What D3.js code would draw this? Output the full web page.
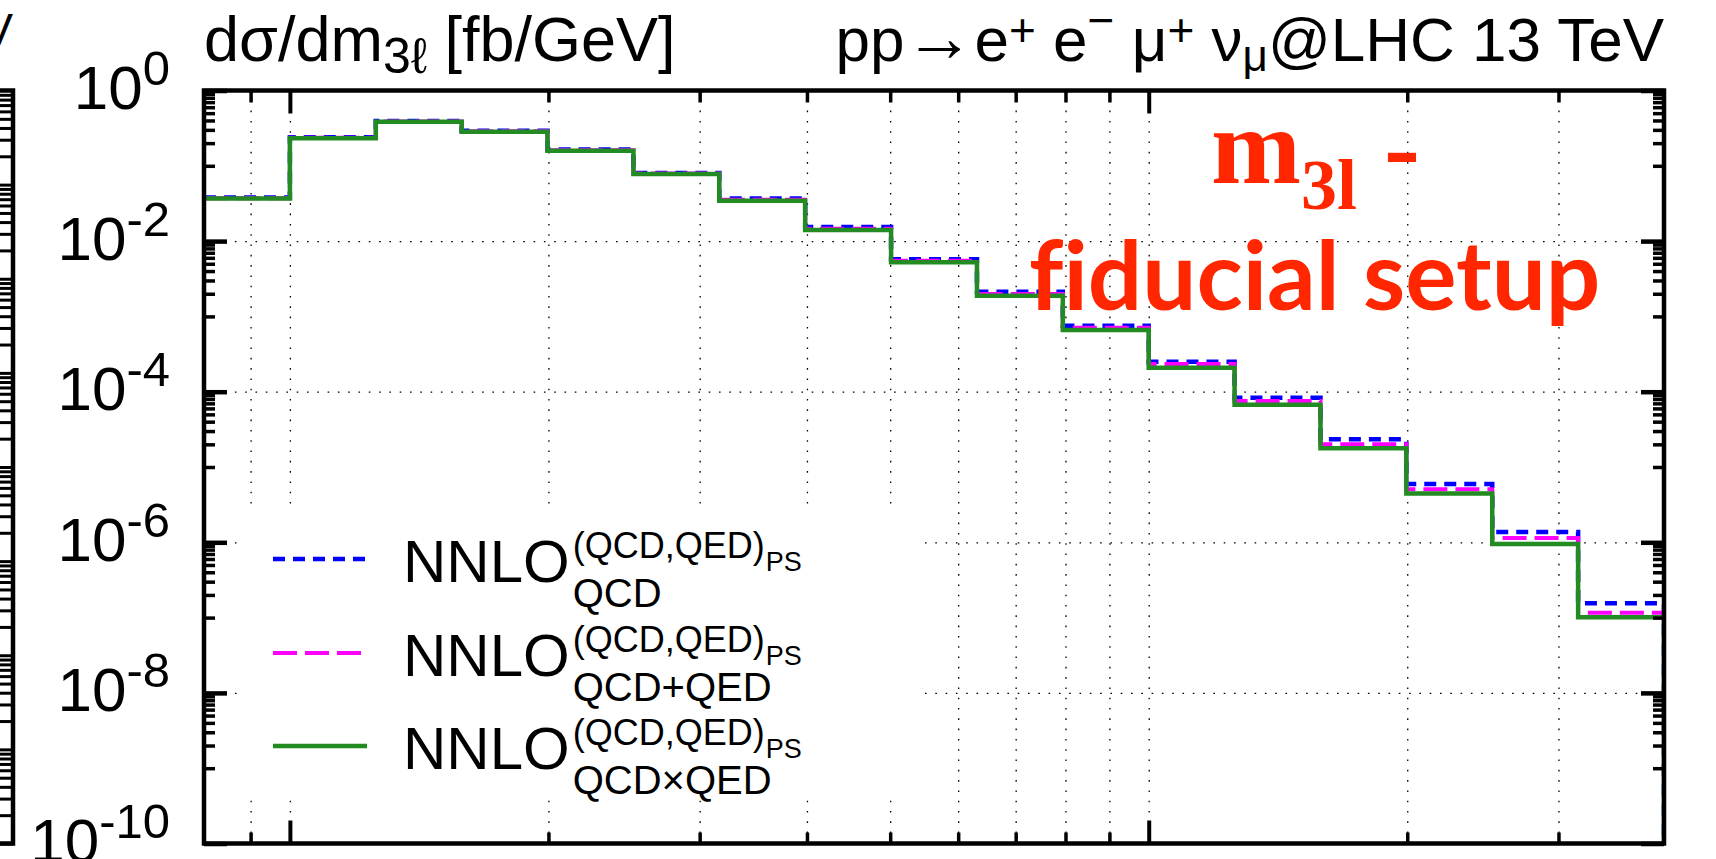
<!DOCTYPE html>
<html>
<head>
<meta charset="utf-8">
<script src="https://cdn.jsdelivr.net/npm/d3@7"></script>
<style>
  body { margin: 0; background: #fff; }
  svg { display: block; font-family: "Liberation Sans", Arial, sans-serif; }
</style>
</head>
<body>
<div id="chart"></div>
<script>
// m3l bin edges [GeV] (10 bins per decade)
var binEdges = [79.43, 100, 125.9, 158.5, 199.5, 251.2, 316.2, 398.1, 501.2, 631.0,
                794.3, 1000, 1258.9, 1584.9, 1995.3, 2511.9, 3162.3, 3981.1];

// dsigma/dm3l [fb/GeV] per bin
var nnloQCD = [0.0379, 0.239, 0.395, 0.292, 0.164, 0.0805, 0.0368, 0.0154, 0.00575, 0.00212,
               7.5e-4, 2.5e-4, 8.3e-5, 2.33e-5, 5.95e-6, 1.37e-6, 1.55e-7];
var nnloQCDplusQED = [0.0372, 0.235, 0.389, 0.287, 0.161, 0.0790, 0.0355, 0.0146, 0.00548, 0.00199,
                      7.06e-4, 2.33e-4, 7.52e-5, 2.0e-5, 5.07e-6, 1.14e-6, 1.16e-7];
var nnloQCDxQED = [0.0368, 0.232, 0.385, 0.284, 0.159, 0.0778, 0.0344, 0.0140, 0.00523, 0.00188,
                   6.59e-4, 2.08e-4, 6.72e-5, 1.77e-5, 4.45e-6, 9.48e-7, 1.01e-7];

// Ticks
var yMajorTicks = [1, 1e-2, 1e-4, 1e-6, 1e-8, 1e-10];
var yTickExp = ["0", "-2", "-4", "-6", "-8", "-10"];
var yGridTicks = [1e-2, 1e-4, 1e-6, 1e-8];
var xMajorTicks = [100, 1000];
var xMinorTicks = [90, 200, 300, 400, 500, 600, 700, 800, 900, 2000, 3000];
var legendLabels = ["QCD", "QCD+QED", "QCD\u00d7QED"];

// minor y ticks: 1..9 x 10^k in the upper decade of every two-decade step
var yMinorTicks = [];
[-1, -3, -5, -7, -9].forEach(function(k) {
  d3.range(1, 10).forEach(function(m) { yMinorTicks.push(m * Math.pow(10, k)); });
});

var W = 1716, H = 859;
var plotL = 204, plotR = 1664, plotT = 90.5, plotB = 843.5;
var red = "#ff2600";

var svg = d3.select("#chart").append("svg")
    .attr("width", W)
    .attr("height", H);

var x = d3.scaleLog()
    .domain([binEdges[0], binEdges[binEdges.length - 1]])
    .range([plotL, plotR]);

var y = d3.scaleLog()
    .domain([1e-10, 1])
    .range([plotB, plotT]);

// Dotted grid
var xGridTicks = xMinorTicks.concat(xMajorTicks).sort(d3.ascending);

svg.append("g")
    .attr("transform", "translate(0," + plotB + ")")
    .call(d3.axisBottom(x).tickValues(xGridTicks).tickSize(-(plotB - plotT)).tickFormat(""))
    .call(function(g) { g.select(".domain").remove(); })
    .selectAll("line")
      .attr("stroke", "#000")
      .attr("stroke-width", 1.3)
      .attr("stroke-dasharray", "1.6,8.7");

svg.append("g")
    .attr("transform", "translate(" + plotL + ",0)")
    .call(d3.axisLeft(y).tickValues(yGridTicks).tickSize(-(plotR - plotL)).tickFormat(""))
    .call(function(g) { g.select(".domain").remove(); })
    .selectAll("line")
      .attr("stroke", "#000")
      .attr("stroke-width", 1.3)
      .attr("stroke-dasharray", "1.6,8.7");

// Legend background hides the grid
svg.append("rect")
    .attr("x", 238).attr("y", 512)
    .attr("width", 680).attr("height", 280)
    .attr("fill", "#fff");

// Histograms
svg.append("clipPath")
    .attr("id", "plotclip")
  .append("rect")
    .attr("x", plotL).attr("y", plotT)
    .attr("width", plotR - plotL).attr("height", plotB - plotT);

var series = [
  {vals: nnloQCD, color: "#0000ff", dash: "12,8", width: 4.5},
  {vals: nnloQCDplusQED, color: "#ff00ff", dash: "24,8", width: 4},
  {vals: nnloQCDxQED, color: "#228b22", dash: null, width: 4.5}
];

function stepPoints(vals) {
  var pts = vals.map(function(v, i) { return [binEdges[i], v]; });
  pts.push([binEdges[vals.length], vals[vals.length - 1]]);
  pts.push([binEdges[vals.length], 1e-10]);
  return pts;
}

var line = d3.line()
    .x(function(d) { return x(d[0]); })
    .y(function(d) { return y(d[1]); })
    .curve(d3.curveStepAfter);

svg.append("g")
    .attr("clip-path", "url(#plotclip)")
  .selectAll("path")
  .data(series)
  .enter().append("path")
    .attr("d", function(d) { return line(stepPoints(d.vals)); })
    .attr("fill", "none")
    .attr("stroke", function(d) { return d.color; })
    .attr("stroke-width", function(d) { return d.width; })
    .attr("stroke-dasharray", function(d) { return d.dash; })
    .attr("stroke-linejoin", "miter")
    .attr("stroke-linecap", "butt");

// Frame
svg.append("rect")
    .attr("x", plotL).attr("y", plotT)
    .attr("width", plotR - plotL).attr("height", plotB - plotT)
    .attr("fill", "none")
    .attr("stroke", "#000")
    .attr("stroke-width", 4.5);

// Inward ticks on all four sides
function ticks(axis, tx, ty, values, size, width) {
  svg.append("g")
      .attr("transform", "translate(" + tx + "," + ty + ")")
      .call(axis.tickValues(values).tickSize(size).tickFormat(""))
      .call(function(g) { g.select(".domain").remove(); })
      .selectAll("line")
        .attr("stroke", "#000")
        .attr("stroke-width", width);
}

ticks(d3.axisRight(y), plotL, 0, yMajorTicks, 23, 4.5);
ticks(d3.axisRight(y), plotL, 0, yMinorTicks, 11, 3.5);
ticks(d3.axisLeft(y), plotR, 0, yMajorTicks, 23, 4.5);
ticks(d3.axisLeft(y), plotR, 0, yMinorTicks, 11, 3.5);
ticks(d3.axisTop(x), 0, plotB, xMajorTicks, 23, 4);
ticks(d3.axisTop(x), 0, plotB, xMinorTicks, 11, 3.5);
ticks(d3.axisBottom(x), 0, plotT, xMajorTicks, 23, 4);
ticks(d3.axisBottom(x), 0, plotT, xMinorTicks, 12, 3.5);

// Y tick labels 10^n
svg.append("g")
    .attr("transform", "translate(" + plotL + ",0)")
    .call(d3.axisLeft(y).tickValues(yMajorTicks).tickSize(0).tickPadding(34))
    .call(function(g) { g.select(".domain").remove(); })
    .attr("font-size", 62)
    .attr("font-family", "Liberation Sans, Arial, sans-serif")
    .selectAll(".tick text")
      .attr("fill", "#000")
      .attr("dy", 18)
      .each(function(d, i) {
        var t = d3.select(this);
        t.text(null);
        t.append("tspan").text("10");
        t.append("tspan").attr("dy", -24).attr("font-size", 49).text(yTickExp[i]);
      });

// Titles
var tl = svg.append("text")
    .attr("x", 204).attr("y", 61)
    .attr("font-size", 63);
tl.append("tspan").text("d\u03c3/dm");
tl.append("tspan").attr("dy", 12).attr("font-size", 50).text("3\u2113");
tl.append("tspan").attr("dy", -12).text(" [fb/GeV]");

var tr = svg.append("text")
    .attr("x", 1664).attr("y", 61)
    .attr("text-anchor", "end")
    .attr("font-size", 62);
tr.append("tspan").text("pp");
tr.append("tspan").attr("font-size", 70).text("\u2192");
tr.append("tspan").text("e");
tr.append("tspan").attr("dy", -15).attr("font-size", 46).text("+");
tr.append("tspan").attr("dy", 15).text(" e");
tr.append("tspan").attr("dy", -25).attr("font-size", 46).text("\u2212");
tr.append("tspan").attr("dy", 25).text(" \u03bc");
tr.append("tspan").attr("dy", -15).attr("font-size", 46).text("+");
tr.append("tspan").attr("dy", 15).text(" \u03bd");
tr.append("tspan").attr("dy", 10).attr("font-size", 44).text("\u03bc");
tr.append("tspan").attr("dy", -10).text("@LHC 13 TeV");

// Legend
var legendY = [559, 653, 746];
var leg = svg.append("g");
series.forEach(function(s, i) {
  var ly = legendY[i];
  leg.append("line")
      .attr("x1", 273).attr("x2", 367)
      .attr("y1", ly).attr("y2", ly)
      .attr("stroke", s.color)
      .attr("stroke-width", s.width)
      .attr("stroke-dasharray", s.dash);
  var nn = leg.append("text")
      .attr("x", 403).attr("y", ly + 23)
      .attr("font-size", 60)
      .text("NNLO");
  var x0 = 403 + nn.node().getComputedTextLength() + 3;
  var sup = leg.append("text")
      .attr("x", x0).attr("y", ly - 1)
      .attr("font-size", 36)
      .text("(QCD,QED)");
  leg.append("text")
      .attr("x", x0 + sup.node().getComputedTextLength() + 1).attr("y", ly + 12)
      .attr("font-size", 27)
      .text("PS");
  leg.append("text")
      .attr("x", x0).attr("y", ly + 48)
      .attr("font-size", 40)
      .text(legendLabels[i]);
});

// Red annotation
var ann = svg.append("text")
    .attr("x", 1211).attr("y", 183)
    .attr("fill", red)
    .attr("font-family", "Liberation Serif, Times New Roman, serif")
    .attr("font-weight", "bold")
    .attr("font-size", 108);
ann.append("tspan").text("m");
ann.append("tspan").attr("dy", 26).attr("font-size", 72).text("3l");
ann.append("tspan").attr("dy", -26).text(" -");

svg.append("text")
    .attr("x", 1029).attr("y", 310)
    .attr("fill", red)
    .attr("font-family", "Lato, Open Sans, sans-serif")
    .attr("font-weight", "bold")
    .attr("font-size", 96)
    .style("font-variant-ligatures", "none")
    .style("font-feature-settings", "'liga' 0")
    .text("fiducial setup");

// Edge of the neighbouring panel on the left
var yLeft = d3.scaleLog().domain([1e-6, 1e2]).range([plotB, plotT]);
var leftTicks = [];
d3.range(-6, 2).forEach(function(k) {
  d3.range(1, 10).forEach(function(m) { leftTicks.push(m * Math.pow(10, k)); });
});
svg.append("path")
    .attr("d", "M0," + plotT + "H13V" + plotB + "H0")
    .attr("fill", "none")
    .attr("stroke", "#000")
    .attr("stroke-width", 4.5);
ticks(d3.axisLeft(yLeft), 13, 0, leftTicks, 13, 3);
svg.append("text")
    .attr("x", 13).attr("y", 45)
    .attr("text-anchor", "end")
    .attr("font-size", 45)
    .text("[fb/GeV");
</script>
</body>
</html>
